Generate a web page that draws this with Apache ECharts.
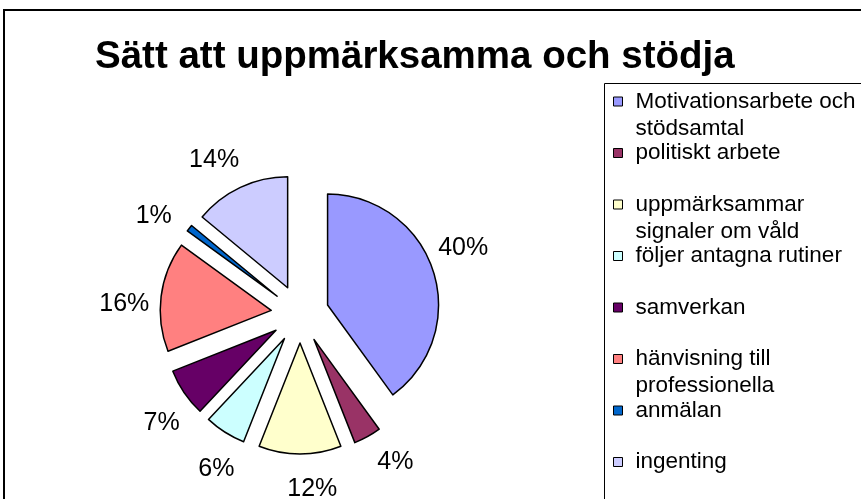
<!DOCTYPE html>
<html>
<head>
<meta charset="utf-8">
<script src="https://cdn.jsdelivr.net/npm/echarts@6/dist/echarts.min.js"></script>
<style>
    html, body { margin: 0; padding: 0; background: #fff; }
    #chart { width: 861px; height: 499px; }
</style>
</head>
<body>
<div id="chart"></div>
<script>
    // legend names, wrapped the same way Excel wrapped them
    const categories = [
        'Motivationsarbete och\nstödsamtal',
        'politiskt arbete',
        'uppmärksammar\nsignaler om våld',
        'följer antagna rutiner',
        'samverkan',
        'hänvisning till\nprofessionella',
        'anmälan',
        'ingenting'
    ]
    const shares = [40, 4, 12, 6, 7, 16, 1, 14]
    const sliceColors = ['#9999FF', '#993366', '#FFFFCC', '#CCFFFF', '#660066', '#FF8080', '#0066CC', '#CCCCFF']

    const font = 'Liberation Sans, Arial, sans-serif'
    const pieCenter = [300, 314]
    const pieRadius = 111
    const explode = 29

    const chart = echarts.init(document.getElementById('chart'))

    const sliceData = categories.map((name, i) => ({
        name: name,
        value: shares[i],
        selected: true,
        itemStyle: { color: sliceColors[i] }
    }))

    const option = {
        animation: false,
        title: {
            text: 'Sätt att uppmärksamma och stödja',
            left: 95,
            top: 38,
            padding: 0,
            textStyle: {
                fontFamily: font,
                fontWeight: 'bold',
                fontSize: 38.5,
                color: '#000'
            }
        },
        legend: {
            orient: 'vertical',
            left: 613,
            top: 61,
            height: 480,
            padding: 0,
            itemWidth: 9,
            itemHeight: 9,
            itemGap: -29.5,
            icon: 'rect',
            itemStyle: { borderColor: '#000', borderWidth: 1 },
            // blank first line keeps the marker next to the first text line
            formatter: name => '\n' + name + (name.indexOf('\n') < 0 ? '\n' : ''),
            textStyle: {
                fontFamily: font,
                fontSize: 22.5,
                lineHeight: 27,
                color: '#000',
                padding: [0, 0, 0, 8]
            },
            data: categories
        },
        graphic: [
            {
                type: 'rect',
                silent: true,
                shape: { x: 4, y: 10, width: 900, height: 600 },
                style: { fill: 'none', stroke: '#000', lineWidth: 2 }
            },
            {
                type: 'rect',
                silent: true,
                shape: { x: 604.5, y: 83.5, width: 300, height: 500 },
                style: { fill: 'none', stroke: '#000', lineWidth: 1 }
            }
        ],
        series: [
            {
                type: 'pie',
                center: pieCenter,
                radius: pieRadius,
                startAngle: 90,
                clockwise: true,
                selectedMode: 'multiple',
                selectedOffset: explode,
                itemStyle: { borderColor: '#000', borderWidth: 1.5 },
                select: { itemStyle: { borderColor: '#000', borderWidth: 1.5 } },
                emphasis: { disabled: true },
                label: { show: false },
                labelLine: { show: false },
                data: sliceData
            },
            {
                // invisible ring that only carries the percentage labels,
                // turned a few degrees like Excel placed them
                type: 'pie',
                center: pieCenter,
                radius: [134, 154],
                startAngle: 94,
                clockwise: true,
                silent: true,
                selectedMode: 'multiple',
                selectedOffset: explode,
                avoidLabelOverlap: false,
                itemStyle: { color: 'rgba(0,0,0,0)', borderWidth: 0 },
                select: { itemStyle: { color: 'rgba(0,0,0,0)', borderWidth: 0 } },
                emphasis: { disabled: true },
                label: {
                    show: true,
                    position: 'inside',
                    formatter: '{d}%',
                    color: '#000',
                    fontFamily: font,
                    fontSize: 25
                },
                labelLine: { show: false },
                data: categories.map((name, i) => ({ name: name, value: shares[i], selected: true }))
            }
        ]
    }

    chart.setOption(option)
</script>
</body>
</html>
